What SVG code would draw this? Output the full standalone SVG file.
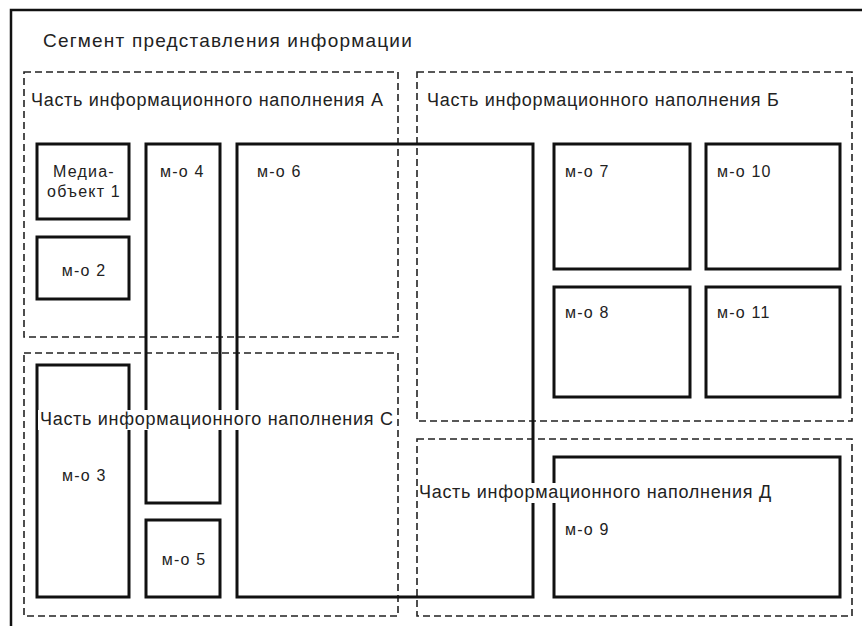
<svg xmlns="http://www.w3.org/2000/svg" width="862" height="626" viewBox="0 0 862 626">
<style>
text{font-family:"Liberation Sans",Arial,sans-serif;fill:#222}
.t{font-size:19px;letter-spacing:1.2px}
.l{font-size:18px;letter-spacing:0.7px}
.m{font-size:16px;letter-spacing:1.2px}
.part{fill:none;stroke:#222;stroke-width:1.6;stroke-dasharray:7,4}
.mo{fill:none;stroke:#111;stroke-width:3}
.bg{fill:#fff}
</style>
<rect width="862" height="626" fill="#fff"/>
<g id="segment">
<rect x="11" y="10" width="870" height="640" fill="none" stroke="#111" stroke-width="2.5"/>
<text class="t" x="43" y="47">Сегмент представления информации</text>
</g>
<g id="partA">
<rect class="part" x="24" y="72" width="374" height="265"/>
<text class="l" x="31" y="106">Часть информационного наполнения А</text>
</g>
<g id="partB">
<rect class="part" x="417" y="72" width="435" height="349"/>
<text class="l" x="427" y="106">Часть информационного наполнения Б</text>
</g>
<g id="partC">
<rect class="part" x="24" y="353" width="374" height="263"/>
</g>
<g id="partD">
<rect class="part" x="417" y="439" width="435" height="177"/>
</g>
<g id="mo1">
<rect class="mo" x="37" y="144" width="92" height="75"/>
<text class="m" x="84" y="177" text-anchor="middle">Медиа-</text>
<text class="m" x="84" y="197" text-anchor="middle">объект 1</text>
</g>
<g id="mo2">
<rect class="mo" x="37" y="237" width="92" height="62"/>
<text class="m" x="84" y="276" text-anchor="middle">м-о 2</text>
</g>
<g id="mo3">
<rect class="mo" x="37" y="365" width="92" height="232"/>
<text class="m" x="62" y="481">м-о 3</text>
</g>
<g id="mo4">
<rect class="mo" x="146" y="144" width="74" height="359"/>
<text class="m" x="160" y="177">м-о 4</text>
</g>
<g id="mo5">
<rect class="mo" x="146" y="520" width="74" height="77"/>
<text class="m" x="184" y="565" text-anchor="middle">м-о 5</text>
</g>
<g id="mo6">
<rect class="mo" x="237" y="144" width="296" height="453"/>
<text class="m" x="257" y="177">м-о 6</text>
</g>
<g id="mo7">
<rect class="mo" x="554" y="144" width="136" height="125"/>
<text class="m" x="565" y="177">м-о 7</text>
</g>
<g id="mo10">
<rect class="mo" x="706" y="144" width="134" height="125"/>
<text class="m" x="717" y="177">м-о 10</text>
</g>
<g id="mo8">
<rect class="mo" x="554" y="287" width="136" height="110"/>
<text class="m" x="565" y="318">м-о 8</text>
</g>
<g id="mo11">
<rect class="mo" x="706" y="287" width="134" height="110"/>
<text class="m" x="717" y="318">м-о 11</text>
</g>
<g id="mo9">
<rect class="mo" x="554" y="457" width="286" height="140"/>
<text class="m" x="565" y="535">м-о 9</text>
</g>
<g id="labelC">
<rect class="bg" x="38" y="410" width="356" height="20"/>
<text class="l" x="40" y="425">Часть информационного наполнения С</text>
</g>
<g id="labelD">
<rect class="bg" x="418" y="483" width="358" height="20"/>
<text class="l" x="419" y="498">Часть информационного наполнения Д</text>
</g>
</svg>
